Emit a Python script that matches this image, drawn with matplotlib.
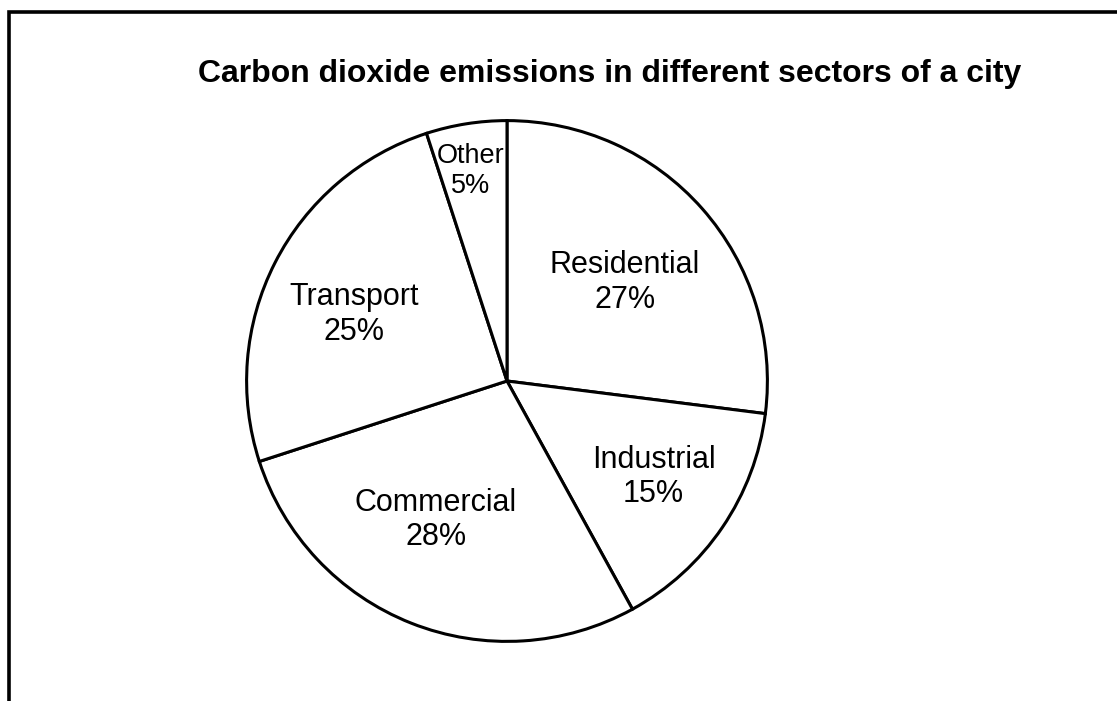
import numpy as np
import matplotlib
matplotlib.use("Agg")
import matplotlib.pyplot as plt
from matplotlib.patches import Rectangle

plt.rcParams['font.family'] = ['Liberation Sans', 'DejaVu Sans']

# data
sectors = ['Residential', 'Industrial', 'Commercial', 'Transport', 'Other']
shares = [27, 15, 28, 25, 5]
label_r = [0.59, 0.673, 0.60, 0.64, 0.82]      # how far out each label sits
label_turn = [-1.6, 1.0, -5.5, 3.4, 0.9]       # small angle nudges (deg)
label_size = [22, 22, 22, 22, 19.5]

W, H = 1117, 701
fig = plt.figure(figsize=(W / 100, H / 100), dpi=100)

# pie axes: centre (507,381) px, radius 263 px
cx, cy, r = 507, 381, 263
ax = fig.add_axes([(cx - r) / W, (H - cy - r) / H, 2 * r / W, 2 * r / H])
wedges, _ = ax.pie(shares, startangle=90, counterclock=False,
                   colors=['white'] * len(shares),
                   wedgeprops=dict(edgecolor='black', linewidth=2.2))
ax.set_xlim(-1.01, 1.01)
ax.set_ylim(-1.01, 1.01)

for w, name, pct, lr, dt, fs in zip(wedges, sectors, shares, label_r, label_turn, label_size):
    ang = np.deg2rad((w.theta1 + w.theta2) / 2 + dt)
    ax.text(lr * np.cos(ang), lr * np.sin(ang), f'{name}\n{pct}%',
            ha='center', va='center', fontsize=fs, linespacing=1.2)

fig.text(610 / W, 1 - 74 / H, 'Carbon dioxide emissions in different sectors of a city',
         ha='center', va='center', fontsize=23, fontweight='bold')

# outer frame (runs off the right and bottom edges)
fig.patches.append(Rectangle((9.5 / W, -0.1), 1.2, 1 - 11.5 / H + 0.1,
                             transform=fig.transFigure, fill=False,
                             edgecolor='black', linewidth=2.6))

fig.savefig('out.png', dpi=100)
